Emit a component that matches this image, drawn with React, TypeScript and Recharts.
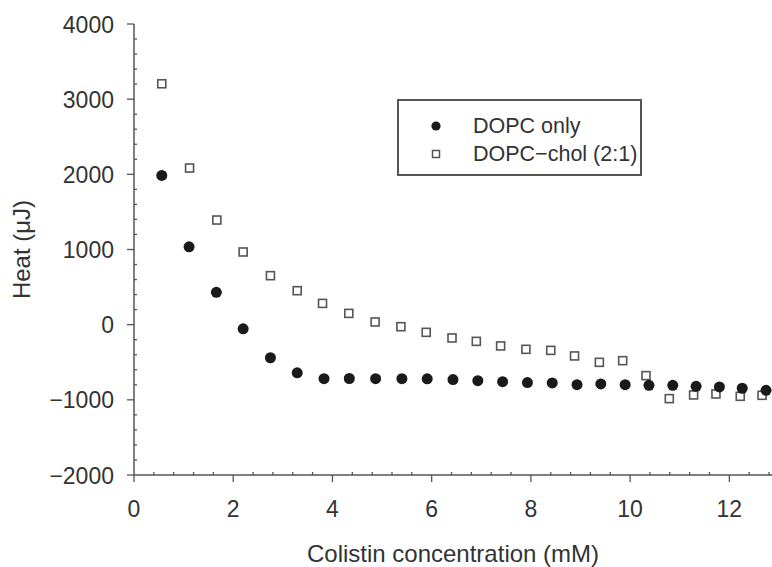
import React from "react";
import { ScatterChart, Scatter, XAxis, YAxis, Legend, Label } from "recharts";

// colistin concentration (mM) and heat (µJ)
const dopcX = [0.56, 1.11, 1.66, 2.2, 2.75, 3.29, 3.83, 4.34, 4.87, 5.4, 5.91, 6.43, 6.93, 7.43, 7.93, 8.43, 8.93, 9.41, 9.9, 10.38, 10.86, 11.33, 11.8, 12.26, 12.74];
const dopcHeat = [1985, 1035, 430, -55, -440, -640, -718, -716, -718, -718, -720, -731, -745, -758, -771, -775, -798, -789, -798, -807, -807, -820, -829, -846, -874];
const cholX = [0.56, 1.12, 1.67, 2.2, 2.75, 3.29, 3.8, 4.33, 4.86, 5.38, 5.89, 6.41, 6.9, 7.39, 7.9, 8.4, 8.88, 9.38, 9.85, 10.32, 10.79, 11.28, 11.73, 12.22, 12.66];
const cholHeat = [3205, 2084, 1392, 967, 652, 452, 283, 150, 36, -27, -102, -177, -222, -283, -328, -342, -416, -501, -479, -678, -984, -935, -922, -953, -940];

const xTicks = [0, 0.4, 0.8, 1.2, 1.6, 2, 2.4, 2.8, 3.2, 3.6, 4, 4.4, 4.8, 5.2, 5.6, 6, 6.4, 6.8, 7.2, 7.6, 8, 8.4, 8.8, 9.2, 9.6, 10, 10.4, 10.8, 11.2, 11.6, 12, 12.4, 12.8];
const xLabels = [0, 2, 4, 6, 8, 10, 12];
const yTicks = [-2000, -1800, -1600, -1400, -1200, -1000, -800, -600, -400, -200, 0, 200, 400, 600, 800, 1000, 1200, 1400, 1600, 1800, 2000, 2200, 2400, 2600, 2800, 3000, 3200, 3400, 3600, 3800, 4000];
const yLabels = [-2000, -1000, 0, 1000, 2000, 3000, 4000];

const seriesNames = ["DOPC only", "DOPC\u2212chol (2:1)"];

const FONT = '"Liberation Sans", Arial, Helvetica, sans-serif';
const TEXT = "#333";
const AXIS = "#555";

const dopcData = dopcX.map((x, i) => ({ x, y: dopcHeat[i] }));
const cholData = cholX.map((x, i) => ({ x, y: cholHeat[i] }));

const fmt = (v: number) => (v < 0 ? "\u2212" + Math.abs(v) : String(v));

const XTick = ({ x, y, payload }: any) => {
  const major = xLabels.includes(payload.value);
  return (
    <g>
      <line x1={x} x2={x} y1={y} y2={major ? y + 7 : y - 3} stroke={AXIS} strokeWidth={1.3} />
      {major && (
        <text x={x} y={y + 42} textAnchor="middle" fontSize={23} fontFamily={FONT} fill={TEXT}>
          {payload.value}
        </text>
      )}
    </g>
  );
};

const YTick = ({ x, y, payload }: any) => {
  const major = yLabels.includes(payload.value);
  return (
    <g>
      <line x1={x} x2={major ? x - 7 : x + 3} y1={y} y2={y} stroke={AXIS} strokeWidth={1.3} />
      {major && (
        <text x={x - 20} y={y + 8.5} textAnchor="end" fontSize={23} fontFamily={FONT} fill={TEXT}>
          {fmt(payload.value)}
        </text>
      )}
    </g>
  );
};

const Dot = ({ cx, cy }: any) => <circle cx={cx} cy={cy} r={5.5} fill="#1a1a1a" />;
const Box = ({ cx, cy }: any) => (
  <rect x={cx - 4} y={cy - 4} width={8} height={8} fill="#fff" stroke="#555" strokeWidth={1.6} />
);

const LegendBox = () => (
  <div
    style={{
      width: 241,
      height: 73,
      border: "2px solid #555",
      background: "#fff",
      fontFamily: FONT,
      fontSize: 21.5,
      color: TEXT,
      position: "relative",
    }}
  >
    {seriesNames.map((name, i) => (
      <div key={name} style={{ position: "absolute", left: 0, top: 11 + i * 28, height: 28, display: "flex", alignItems: "center" }}>
        <svg width={74} height={28}>
          {i === 0 ? (
            <circle cx={37} cy={14} r={4.6} fill="#1a1a1a" />
          ) : (
            <rect x={33.5} y={10.5} width={7} height={7} fill="#fff" stroke="#555" strokeWidth={1.5} />
          )}
        </svg>
        <span style={{ whiteSpace: "nowrap" }}>{name}</span>
      </div>
    ))}
  </div>
);

export default function App() {
  return (
    <div style={{ position: "absolute", left: 0, top: 0, background: "#fff" }}>
      <ScatterChart width={772} height={567} margin={{ top: 24, right: 0, left: 0, bottom: 0 }}>
        <XAxis
          type="number"
          dataKey="x"
          domain={[0, 12.86]}
          ticks={xTicks}
          interval={0}
          allowDataOverflow
          tickSize={0}
          tickMargin={0}
          height={92}
          stroke={AXIS}
          strokeWidth={1.5}
          tick={(p: any) => <XTick {...p} />}
        >
          <Label
            content={({ viewBox }: any) => (
              <text
                x={viewBox.x + viewBox.width / 2}
                y={562}
                textAnchor="middle"
                fontSize={24}
                fontFamily={FONT}
                fill={TEXT}
              >
                Colistin concentration (mM)
              </text>
            )}
          />
        </XAxis>
        <YAxis
          type="number"
          dataKey="y"
          domain={[-2000, 4000]}
          ticks={yTicks}
          interval={0}
          tickSize={0}
          tickMargin={0}
          width={134}
          stroke={AXIS}
          strokeWidth={1.5}
          tick={(p: any) => <YTick {...p} />}
        >
          <Label
            content={({ viewBox }: any) => {
              const cy = viewBox.y + viewBox.height / 2;
              return (
                <text
                  x={30}
                  y={cy}
                  transform={`rotate(-90 30 ${cy})`}
                  textAnchor="middle"
                  fontSize={24}
                  fontFamily={FONT}
                  fill={TEXT}
                >
                  Heat (μJ)
                </text>
              );
            }}
          />
        </YAxis>
        <Legend
          layout="vertical"
          align="center"
          verticalAlign="middle"
          wrapperStyle={{ left: 397, top: 99, width: 245 }}
          content={() => <LegendBox />}
        />
        <Scatter name={seriesNames[1]} data={cholData} shape={(p: any) => <Box {...p} />} isAnimationActive={false} />
        <Scatter name={seriesNames[0]} data={dopcData} shape={(p: any) => <Dot {...p} />} isAnimationActive={false} />
      </ScatterChart>
    </div>
  );
}
